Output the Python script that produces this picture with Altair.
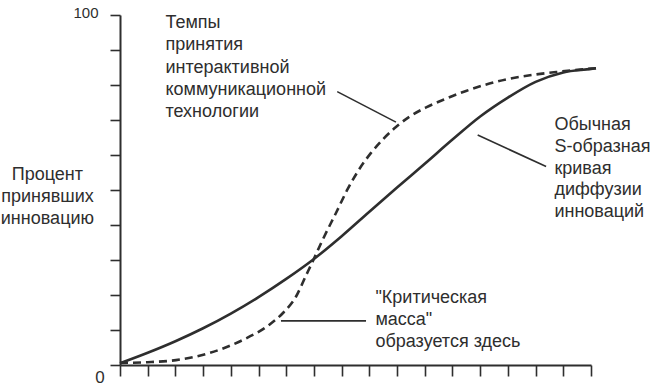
import altair as alt
import pandas as pd

# --- data (x: time steps 0..17, y: percent of adopters) ---
x_ticks = list(range(0, 18))
y_ticks = list(range(0, 101, 10))

solid_x = [0, 1, 2, 3, 4, 5, 6, 7, 8, 9, 10, 11, 12, 13, 14, 15, 16, 17, 17.18]
solid_y = [0.5, 3.5, 6.8, 10.5, 14.7, 19.4, 24.6, 30.3, 36.8, 43.8, 50.7, 57.5, 64.4, 71.0,
           76.4, 80.9, 83.6, 84.6, 84.8]

dashed_x = [0, 1, 2.02, 3.22, 4.42, 5.39, 5.9, 6.35, 6.71, 6.95, 7.31, 7.8, 8.22, 8.64, 9.06,
            9.48, 9.96, 10.44, 11.05, 11.77, 12.49, 13.94, 15.0, 15.86, 16.6, 17.18]
dashed_y = [0.6, 0.8, 1.4, 3.4, 7.1, 11.5, 15.0, 19.5, 25.5, 29.5, 35.7, 43.5, 50.3, 56.0, 60.6,
            64.4, 68.0, 70.9, 73.6, 76.1, 78.3, 81.6, 83.0, 83.8, 84.4, 84.8]

label_interactive = ["Темпы", "принятия", "интерактивной", "коммуникационной", "технологии"]
label_scurve = ["Обычная", "S-образная", "кривая", "диффузии", "инноваций"]
label_critical = ["\"Критическая", "масса\"", "образуется здесь"]
label_yaxis = ["Процент", "принявших", "инновацию"]

# annotation anchors (data units)
interactive_pos = (1.64, [97.7, 91.4, 85.0, 78.6, 72.3])
scurve_pos = (15.68, [68.6, 62.3, 56.0, 49.9, 43.7])
critical_pos = (9.22, [19.1, 12.9, 6.6])
yaxis_pos = (-2.62, [54.3, 48.0, 41.7])

pointers = [
    (5.81, 12.6, 8.88, 12.6),
    (7.84, 78.1, 9.96, 69.4),
    (12.91, 65.7, 15.38, 56.7),
]

INK = "#2e2e2e"
FONT = "Liberation Sans"

solid_df = pd.DataFrame({"x": solid_x, "y": solid_y})
dashed_df = pd.DataFrame({"x": dashed_x, "y": dashed_y})

xs = alt.Scale(domain=[0, 17], nice=False, zero=False)
ys = alt.Scale(domain=[0, 100], nice=False, zero=False)

x_axis = alt.Axis(values=x_ticks, labels=False, title=None, grid=False,
                  tickSize=11, tickWidth=1.6, tickColor=INK,
                  domainColor=INK, domainWidth=2)
y_axis = alt.Axis(values=y_ticks, title=None, grid=False,
                  labelExpr="datum.value == 100 ? '100' : ''",
                  labelFont=FONT, labelFontSize=15, labelColor=INK,
                  labelPadding=12, labelOffset=-3,
                  tickSize=10, tickWidth=1.6, tickColor=INK,
                  domainColor=INK, domainWidth=2)

X = alt.X("x:Q", scale=xs, axis=x_axis)
Y = alt.Y("y:Q", scale=ys, axis=y_axis)

solid = alt.Chart(solid_df).mark_line(
    color=INK, strokeWidth=2.6, interpolate="monotone"
).encode(x=X, y=Y)

dashed = alt.Chart(dashed_df).mark_line(
    color=INK, strokeWidth=2.6, interpolate="monotone", strokeDash=[8, 5]
).encode(x=X, y=Y)

ptr_df = pd.DataFrame(pointers, columns=["x", "y", "x2", "y2"])
ptr = alt.Chart(ptr_df).mark_rule(color=INK, strokeWidth=1.6).encode(
    x=X, y=Y, x2="x2:Q", y2="y2:Q"
)


def text_block(lines, pos, align):
    px, ys_ = pos
    df = pd.DataFrame({"x": [px] * len(lines), "y": ys_, "t": lines})
    return alt.Chart(df).mark_text(
        align=align, baseline="middle", font=FONT, fontSize=18, color=INK
    ).encode(x=X, y=Y, text="t:N")


zero_df = pd.DataFrame({"x": [-0.72], "y": [-3.7], "t": ["0"]})
zero = alt.Chart(zero_df).mark_text(
    align="center", baseline="middle", font=FONT, fontSize=17, color=INK
).encode(x=X, y=Y, text="t:N")

chart = alt.layer(
    solid, dashed, ptr,
    text_block(label_interactive, interactive_pos, "left"),
    text_block(label_scurve, scurve_pos, "left"),
    text_block(label_critical, critical_pos, "left"),
    text_block(label_yaxis, yaxis_pos, "center"),
    zero,
).properties(
    width=471, height=350,
    autosize=alt.AutoSizeParams(type="none"),
    padding={"left": 120, "top": 15, "right": 62, "bottom": 23},
    background="white",
).configure_view(stroke=None)

chart.save("out.html", embed_options={"renderer": "svg", "actions": False})
